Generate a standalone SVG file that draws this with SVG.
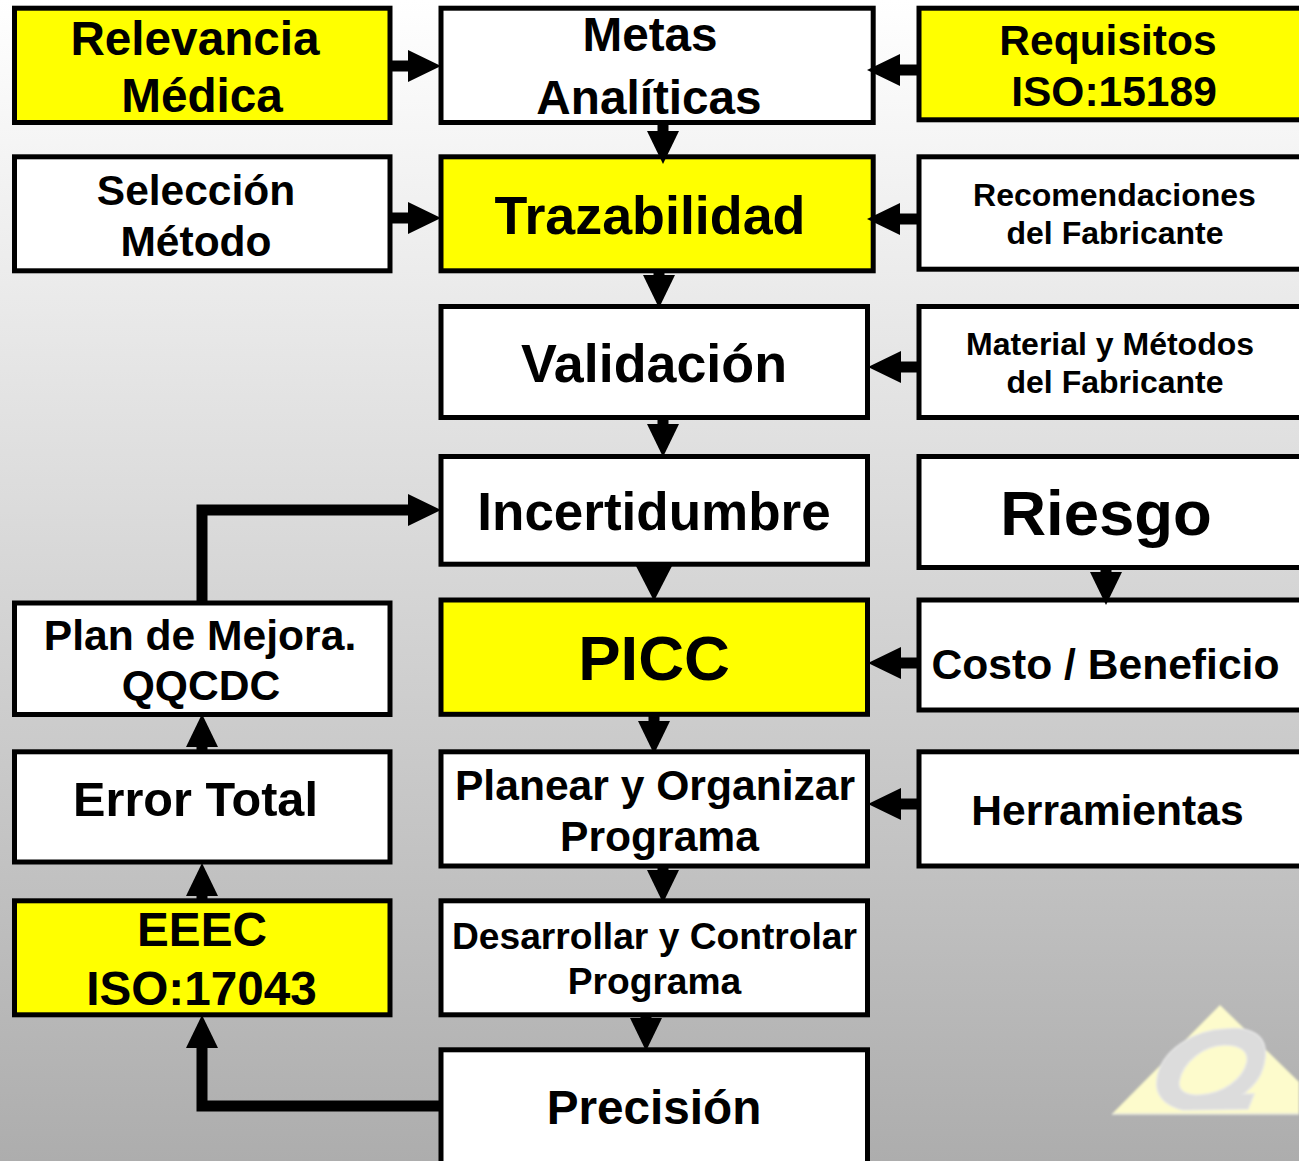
<svg xmlns="http://www.w3.org/2000/svg" width="1299" height="1161" viewBox="0 0 1299 1161">
<style>
.b{fill:#fff;stroke:#000;stroke-width:5}
.y{fill:#ff0;stroke:#000;stroke-width:5}
text{font-family:"Liberation Sans",Arial,sans-serif;font-weight:700;fill:#000;text-anchor:middle}
.c{fill:none;stroke:#000;stroke-width:11;marker-end:url(#a)}
</style>
<defs>
<linearGradient id="bg" x1="0" y1="0" x2="0" y2="1"><stop offset="0" stop-color="#fff"/><stop offset="1" stop-color="#adadad"/></linearGradient>
<marker id="a" markerUnits="userSpaceOnUse" markerWidth="34" markerHeight="34" refX="0" refY="17" orient="auto"><path d="M0 1L33 17L0 33z" fill="#000"/></marker>
<marker id="w" markerUnits="userSpaceOnUse" markerWidth="36" markerHeight="38" refX="0" refY="19" orient="auto"><path d="M0 1L35 19L0 37z" fill="#000"/></marker>
<filter id="s" x="-5%" y="-5%" width="110%" height="110%"><feGaussianBlur stdDeviation="0.8"/></filter>
</defs>
<rect width="1299" height="1161" fill="url(#bg)"/>
<g id="logo" filter="url(#s)">
<path d="M1220 1005L1299 1082V1114H1112z" fill="#fdfbcc"/>
<path d="M1112 1114H1299" stroke="#e4e4d8" stroke-width="2" fill="none"/>
<path fill-rule="evenodd" d="M1225 1029C1250 1026 1268 1035 1265 1058C1263 1075 1255 1085 1243 1094L1254 1094L1248 1109L1183 1110C1165 1106 1155 1095 1157 1080C1160 1050 1195 1030 1225 1029ZM1226 1045C1205 1044 1182 1062 1179 1082C1178 1092 1188 1096 1200 1095C1222 1094 1243 1080 1247 1062C1249 1050 1238 1045 1226 1045Z" fill="#dcdcdc" stroke="#e6e6e6" stroke-width="1.5"/>
</g>
<g id="relevancia"><rect class="y" x="14.5" y="8.2" width="375.500" height="114.300"/><text x="195" y="55" font-size="47.7">Relevancia</text><text x="202" y="112" font-size="47.7">Médica</text></g>
<g id="metas"><rect class="b" x="441" y="8.2" width="432.200" height="114.300"/><text x="650" y="51" font-size="47.7">Metas</text><text x="649" y="114" font-size="47.7">Analíticas</text></g>
<g id="requisitos"><rect class="y" x="919" y="8.2" width="386" height="111.600"/><text x="1108" y="55" font-size="42.5">Requisitos</text><text x="1114" y="106" font-size="42.5">ISO:15189</text></g>
<g id="seleccion"><rect class="b" x="14.5" y="156.800" width="375.500" height="114"/><text x="196" y="205" font-size="42.5">Selección</text><text x="196" y="256" font-size="42.5">Método</text></g>
<g id="trazabilidad"><rect class="y" x="441" y="156.800" width="432.200" height="114"/><text x="650" y="234" font-size="53.8">Trazabilidad</text></g>
<g id="recomendaciones"><rect class="b" x="919" y="156.800" width="386" height="112.400"/><text x="1114.500" y="206" font-size="32">Recomendaciones</text><text x="1115" y="244" font-size="32">del Fabricante</text></g>
<g id="validacion"><rect class="b" x="441" y="306.500" width="426.500" height="111"/><text x="654" y="382" font-size="53.8">Validación</text></g>
<g id="material"><rect class="b" x="919" y="306.500" width="386" height="111"/><text x="1110" y="355" font-size="32">Material y Métodos</text><text x="1115" y="393" font-size="32">del Fabricante</text></g>
<g id="incertidumbre"><rect class="b" x="441" y="456.500" width="426.500" height="107.700"/><text x="654" y="530" font-size="53">Incertidumbre</text></g>
<g id="riesgo"><rect class="b" x="919" y="456.500" width="386" height="111"/><text x="1106" y="535" font-size="63.500">Riesgo</text></g>
<g id="plan"><rect class="b" x="14.5" y="603" width="375.500" height="111.500"/><text x="200" y="650" font-size="42.6">Plan de Mejora.</text><text x="201" y="700" font-size="42.6">QQCDC</text></g>
<g id="picc"><rect class="y" x="441" y="600" width="426.500" height="114.300"/><text x="654" y="680" font-size="63.500">PICC</text></g>
<g id="costo"><rect class="b" x="919" y="600" width="386" height="110"/><text x="1105.500" y="679" font-size="42.6">Costo / Beneficio</text></g>
<g id="error"><rect class="b" x="14.5" y="751.800" width="375.500" height="110.200"/><text x="195.500" y="816" font-size="48.6">Error Total</text></g>
<g id="planear"><rect class="b" x="441" y="751.800" width="426.500" height="114.200"/><text x="655" y="800" font-size="42.6">Planear y Organizar</text><text x="659.500" y="851" font-size="42.6">Programa</text></g>
<g id="herramientas"><rect class="b" x="919" y="751.800" width="386" height="114.200"/><text x="1107.500" y="825" font-size="42.6">Herramientas</text></g>
<g id="eeec"><rect class="y" x="14.5" y="900.800" width="375.500" height="114"/><text x="202" y="946" font-size="47.7">EEEC</text><text x="201.500" y="1005" font-size="47.7">ISO:17043</text></g>
<g id="desarrollar"><rect class="b" x="441" y="900.800" width="426.500" height="114"/><text x="654.500" y="949" font-size="37.2">Desarrollar y Controlar</text><text x="654.500" y="994" font-size="37.2">Programa</text></g>
<g id="precision"><rect class="b" x="441" y="1049.800" width="426.500" height="116"/><text x="654" y="1124" font-size="47.7">Precisión</text></g>
<g id="connectors">
<path class="c" d="M390 66H408"/>
<path class="c" d="M920 70H900"/>
<path class="c" d="M663 122V131"/>
<path class="c" d="M390 218H408"/>
<path class="c" d="M920 219H900"/>
<path class="c" d="M659 270V275"/>
<path class="c" d="M920 367H901"/>
<path class="c" d="M663 418V424"/>
<path class="c" d="M202 604V510H408"/>
<path class="c" style="marker-end:url(#w)" d="M654 564V566"/>
<path class="c" d="M1106 568V572"/>
<path class="c" d="M920 663H901"/>
<path class="c" d="M654 714V721"/>
<path class="c" d="M202 754V747"/>
<path class="c" d="M920 804H901"/>
<path class="c" d="M663 866V870"/>
<path class="c" d="M202 903V896"/>
<path class="c" d="M646 1014V1018"/>
<path class="c" d="M441 1106H202V1048"/>
</g>
</svg>
